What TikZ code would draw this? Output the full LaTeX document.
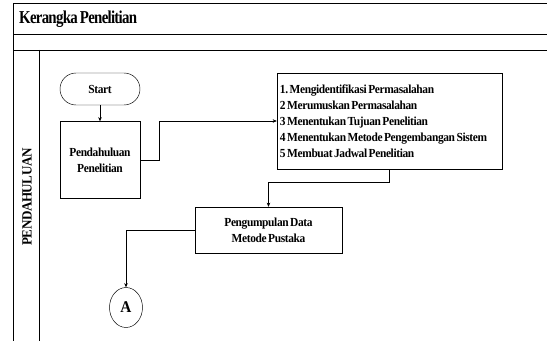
\documentclass[tikz,border=0pt]{standalone}
\usepackage{fontspec}
\setmainfont{Liberation Serif}[FakeStretch=0.93,LetterSpace=-3]
\newfontfamily\judulfont{Liberation Serif}[FakeStretch=0.82,LetterSpace=-4]
\usetikzlibrary{shapes.geometric,arrows.meta}
\newcommand\rapat{\frenchspacing\spaceskip=0.12em\relax}

\begin{document}
\begin{tikzpicture}[x=0.03cm,y=-0.03cm,
  font=\bfseries\fontsize{10.5}{13.6}\selectfont,
  execute at begin node=\rapat,
  box/.style={draw, thin, align=center},
  link/.style={draw, thin, -{Stealth[length=3.5pt,width=3pt]}}]
\useasboundingbox (0,0) rectangle (547,341);

% swimlane
\draw[line width=0.8pt] (13,341) -- (13,3) -- (547,3);
\draw[line width=0.8pt] (13,34) -- (547,34);
\draw[line width=0.8pt] (13,50) -- (547,50);
\draw[line width=0.8pt] (39,50) -- (39,341);
\node[anchor=west, font=\judulfont\bfseries\fontsize{15.5}{17}\selectfont] (judul) at (15,19) {Kerangka Penelitian};
\node[rotate=90, font=\bfseries\fontsize{12}{14}\selectfont] (fase) at (27,197) {PENDAHULUAN};

\node[box, minimum width=2.4cm, minimum height=0.96cm, rounded corners=0.48cm] (start) at (100,89) {Start};
\node[box, minimum width=2.4cm, minimum height=2.31cm, below of=start, node distance=2.13cm] (pendahuluan) {Pendahuluan\\Penelitian};
\node[box, align=left, inner xsep=0.09cm, text width=6.57cm, minimum height=2.88cm] (daftar) at (389.5,121)
  {1. Mengidentifikasi Permasalahan\\2 Merumuskan Permasalahan\\3 Menentukan Tujuan Penelitian\\4 Menentukan Metode Pengembangan Sistem\\5 Membuat Jadwal Penelitian};
\node[box, minimum width=4.41cm, minimum height=1.38cm] (pengumpulan) at (268.5,230) {Pengumpulan Data\\Metode Pustaka};
\node[draw, thin, ellipse, minimum width=0.99cm, minimum height=1.2cm, inner sep=0pt, font=\bfseries\fontsize{14}{16}\selectfont] (a) at (126,307.5) {A};

\draw[link] (start) -- (pendahuluan);
\draw[link] (pendahuluan.east) -- ++(19,0) |- (daftar.west);
\draw[link] (daftar.south) -- ++(0,13) -| (pengumpulan.north);
\draw[link] (pengumpulan.west) -| (a.north);
\end{tikzpicture}
\end{document}
